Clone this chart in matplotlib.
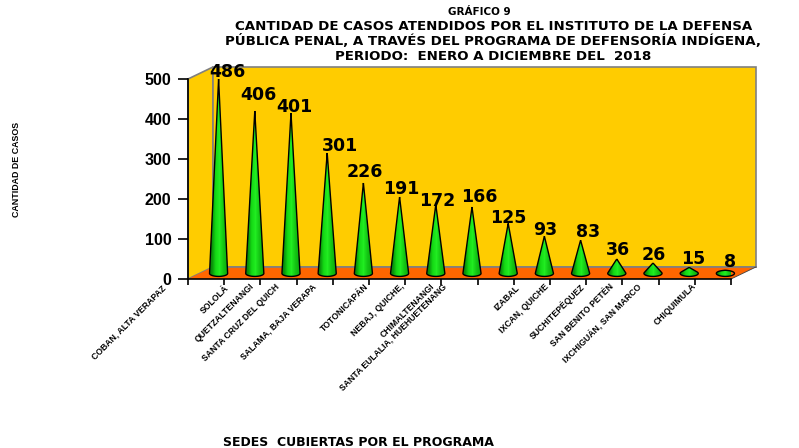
import matplotlib
matplotlib.use('Agg')
import matplotlib.pyplot as plt
from matplotlib.patches import Polygon, PathPatch
from matplotlib.path import Path
import numpy as np

# the original clips the long names at the label box
sedes_visibles = ['COBAN, ALTA VERAPAZ', 'SOLOLÁ', 'QUETZALTENANGI', 'SANTA CRUZ DEL QUICH',
                  'SALAMA, BAJA VERAPA', 'TOTONICAPÁN', 'NEBAJ, QUICHE,', 'CHIMALTENANGI',
                  'SANTA EULALIA, HUEHUETENANG', 'IZABAL', 'IXCAN, QUICHE', 'SUCHITEPÉQUEZ',
                  'SAN BENITO PETÉN', 'IXCHIGUÁN, SAN MARCO', 'CHIQUIMULA']
casos = [486, 406, 401, 301, 226, 191, 172, 166, 125, 93, 83, 36, 26, 15, 8]
yticks = [0, 100, 200, 300, 400, 500]

# pixel positions of texts that do not follow the scales
label_end_x = [165, 227, 253, 278, 315, 367, 403, 433, 445, 518, 547, 583, 612, 640, 695]
label_end_y = [287, 287, 285, 285, 285, 285, 285, 285, 285, 287, 285, 285, 285, 285, 285]
value_x = [227, 258, 294, 340, 365, 401, 437, 479, 508, 545, 588, 618, 654, 693, 730]
value_y = [72, 95, 107, 146, 172, 189, 201, 197, 218, 230, 232, 250, 255, 259, 262]

W, H = 799, 448
fig = plt.figure(figsize=(W / 100, H / 100), dpi=100)
ax = fig.add_axes([188 / W, (H - 279) / H, 543 / W, 200 / H])

n = len(casos)
dx = 0.69
dy = 30

# walls and floor
ax.add_patch(Polygon([(0, 0), (dx, dy), (dx, 500 + dy), (0, 500)], fc='#FFCC00', ec='#808080', lw=1.2, clip_on=False, zorder=1))
ax.add_patch(Polygon([(dx, dy), (n + dx, dy), (n + dx, 500 + dy), (dx, 500 + dy)], fc='#FFCC00', ec='#808080', lw=1.2, clip_on=False, zorder=1))
ax.add_patch(Polygon([(0, 0), (dx, dy), (n + dx, dy), (n, 0)], fc='#FF6600', ec='none', clip_on=False, zorder=2))
ax.plot([dx, n + dx], [dy, dy], color='#808080', lw=1.2, clip_on=False, zorder=2)
ax.plot([n, n + dx], [0, dy], color='#404040', lw=0.6, clip_on=False, zorder=2)

# cones
rx = 0.25
ry = 7.5
grad = np.array([[0.04, 0.55, 0.04], [0.08, 0.85, 0.08], [0.13, 0.93, 0.13], [0.08, 0.78, 0.08], [0.05, 0.68, 0.05]])[None, :, :]
for i, v in enumerate(casos):
    cx = i + 0.5 + dx / 2
    cy = dy / 2 - 1
    h = max(v / ry, 1.0001)
    t0 = np.arcsin(1 / h)
    # round the base from the right tangent point to the left one
    t = np.linspace(t0, -np.pi - t0, 40)
    xs = cx + rx * np.cos(t)
    ys = cy + ry * np.sin(t)
    if v > ry:
        verts = [(cx, cy + v)] + list(zip(xs, ys)) + [(cx, cy + v)]
    else:
        t = np.linspace(0, 2 * np.pi, 40)
        verts = list(zip(cx + rx * np.cos(t), cy + ry * np.sin(t)))
    img = ax.imshow(grad, extent=[cx - rx, cx + rx, cy - ry, cy + v + 1], aspect='auto', zorder=3,
                    interpolation='bilinear')
    patch = PathPatch(Path(verts), fc='none', ec='black', lw=1.0, zorder=4, clip_on=False)
    ax.add_patch(patch)
    img.set_clip_path(patch)
ax.set_xlim(0, n)
ax.set_ylim(0, 500)

# axes
for s in ['top', 'right']:
    ax.spines[s].set_visible(False)
for s in ['left', 'bottom']:
    ax.spines[s].set_linewidth(1.2)
    ax.spines[s].set_zorder(5)
ax.patch.set_visible(False)
ax.set_xticks(range(n + 1))
ax.set_xticklabels([])
ax.set_yticks(yticks)
ax.set_yticklabels(yticks, fontfamily='Liberation Sans', fontweight='bold', fontsize=11.5)
ax.tick_params(axis='y', length=7, width=1.2, pad=5)
ax.tick_params(axis='x', length=4, width=1.2)

def px_text(x, y, s, **kw):
    return fig.text(x / W, 1 - y / H, s, **kw)

for nombre, x, y in zip(sedes_visibles, label_end_x, label_end_y):
    px_text(x, y, nombre, rotation=45, rotation_mode='anchor', ha='right', va='center',
            fontfamily='Liberation Sans', fontweight='bold', fontsize=6.2)

for v, x, y in zip(casos, value_x, value_y):
    px_text(x, y, str(v), ha='center', va='center', fontfamily='DejaVu Sans', fontweight='bold', fontsize=12.5, color='black', zorder=6)

titulo = dict(ha='center', va='center', fontfamily='DejaVu Sans', fontweight='bold')
px_text(479, 12, 'GRÁFICO 9', fontsize=7.5, **titulo)
px_text(494, 26, 'CANTIDAD DE CASOS ATENDIDOS POR EL INSTITUTO DE LA DEFENSA', fontsize=9.6, **titulo)
px_text(493, 41, 'PÚBLICA PENAL, A TRAVÉS DEL PROGRAMA DE DEFENSORÍA INDÍGENA,', fontsize=9.6, **titulo)
px_text(493, 56.5, 'PERIODO:  ENERO A DICIEMBRE DEL  2018', fontsize=9.6, **titulo)

px_text(17, 169, 'CANTIDAD DE CASOS', rotation=90, ha='center', va='center',
        fontfamily='Liberation Sans', fontweight='bold', fontsize=6.4)
px_text(358, 442, 'SEDES  CUBIERTAS POR EL PROGRAMA', ha='center', va='center',
        fontfamily='DejaVu Sans', fontweight='bold', fontsize=9)

fig.savefig('out.png', dpi=100)
